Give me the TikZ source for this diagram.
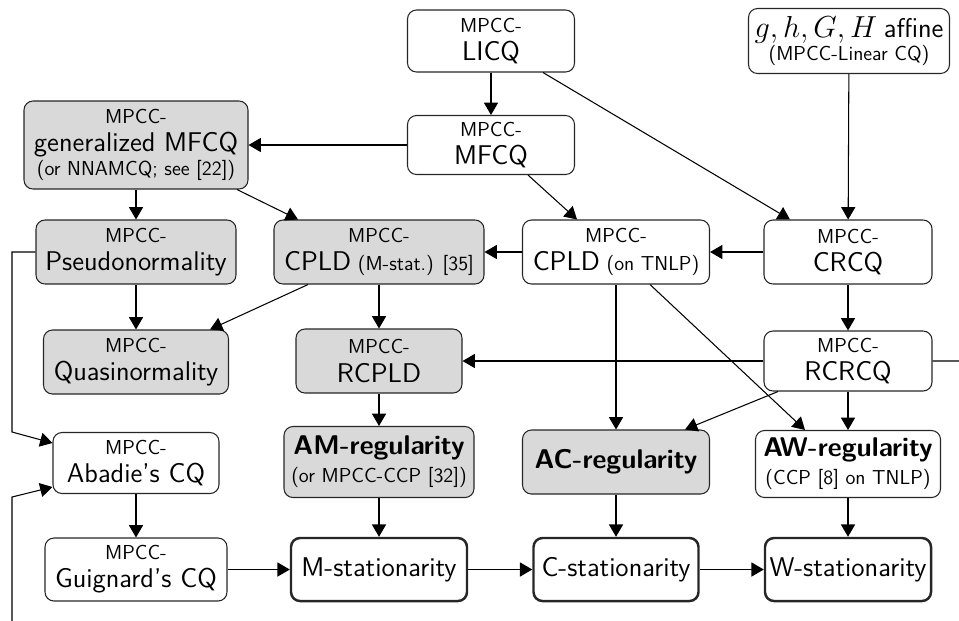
\documentclass[tikz,border=0pt]{standalone}
\usetikzlibrary{arrows.meta,calc}
\newcommand{\mainsz}{\fontsize{15.4}{16}\selectfont}
\tikzset{
	cq/.style={draw=black!85, line width=0.6pt, rounded corners=1.8mm, align=center, inner sep=2pt, font=\sffamily\fontsize{11.5}{16}\selectfont},
	cqgray/.style={cq, fill=black!15},
	stat/.style={cq, line width=1.4pt, font=\sffamily\mainsz},
	arr/.style={-{Triangle[length=7pt,width=8pt]}, line width=0.6pt},
}

\begin{document}
\begin{tikzpicture}
			%%%%% START %%%%%
			\useasboundingbox (0,0) rectangle (19.18,-12.4);
			
			% top rows
			\node[cq, minimum width=3.34cm, minimum height=1.24cm] (licq) at (9.82,-0.82) {MPCC-\\{\mainsz LICQ}};
			\node[cq, minimum width=4.02cm, minimum height=1.3cm] (linear) at (16.98,-0.82) {{\fontsize{17.28}{16}\selectfont$g,h,G,H$} {\mainsz affine}\\[-3pt](MPCC-Linear CQ)};
			\node[cqgray, minimum width=4.48cm, minimum height=1.76cm] (gmfcq) at (2.72,-2.9) {MPCC-\\{\mainsz generalized MFCQ}\\[-2pt](or NNAMCQ; see [22])};
			\node[cq, minimum width=3.34cm, minimum height=1.18cm] (mfcq) at (9.82,-2.9) {MPCC-\\{\mainsz MFCQ}};
			
			\node[cqgray, minimum width=4.0cm, minimum height=1.28cm] (pseudo) at (2.72,-5.04) {MPCC-\\{\mainsz Pseudonormality}};
			\node[cqgray, minimum width=4.2cm, minimum height=1.28cm] (cpldm) at (7.58,-5.04) {MPCC-\\{\mainsz CPLD} (M-stat.) [35]};
			\node[cq, minimum width=3.74cm, minimum height=1.28cm] (cpldt) at (12.32,-5.04) {MPCC-\\{\mainsz CPLD} (on TNLP)};
			\node[cq, minimum width=3.36cm, minimum height=1.28cm] (crcq) at (16.96,-5.04) {MPCC-\\{\mainsz CRCQ}};
			
			\node[cqgray, minimum width=3.7cm, minimum height=1.28cm] (quasi) at (2.72,-7.24) {MPCC-\\{\mainsz Quasinormality}};
			\node[cqgray, minimum width=3.32cm, minimum height=1.28cm] (rcpld) at (7.58,-7.22) {MPCC-\\{\mainsz RCPLD}};
			\node[cq, minimum width=3.36cm, minimum height=1.2cm] (rcrcq) at (16.96,-7.22) {MPCC-\\{\mainsz RCRCQ}};
			
			% regularity
			\node[cq, minimum width=3.32cm, minimum height=1.22cm] (abadie) at (2.72,-9.26) {MPCC-\\{\mainsz Abadie's CQ}};
			\node[cqgray, minimum width=3.8cm, minimum height=1.42cm] (amreg) at (7.58,-9.24) {{\mainsz\bfseries AM-regularity}\\(or MPCC-CCP [32])};
			\node[cqgray, minimum width=3.74cm, minimum height=1.28cm] (acreg) at (12.32,-9.24) {\mainsz\bfseries AC-regularity};
			\node[cq, minimum width=3.7cm, minimum height=1.34cm] (awreg) at (16.96,-9.28) {{\mainsz\bfseries AW-regularity}\\(CCP [8] on TNLP)};
			
			% stationarity
			\node[cq, minimum width=3.64cm, minimum height=1.26cm] (guig) at (2.72,-11.39) {MPCC-\\{\mainsz Guignard's CQ}};
			\node[stat, minimum width=3.52cm, minimum height=1.26cm] (mstat) at (7.58,-11.39) {M-stationarity};
			\node[stat, minimum width=3.3cm, minimum height=1.26cm] (cstat) at (12.32,-11.39) {C-stationarity};
			\node[stat, minimum width=3.32cm, minimum height=1.26cm] (wstat) at (16.96,-11.39) {W-stationarity};
			
			\coordinate (leftup) at (0.24,-8.64);
			\coordinate (leftlow) at (0.24,-9.94);
			\coordinate (outr) at (19.7,-7.22);
			\coordinate (outrb) at (19.7,-12.9);
			\coordinate (outlb) at (0.24,-12.9);
			
			\draw[arr] (licq) -- (mfcq);
			\draw[arr] ($(licq.south)+(1.04,0)$) -- ($(crcq.north)+(-1.16,0)$);
			\draw[arr] (linear) -- (crcq);
			\draw[arr] (mfcq) -- (gmfcq);
			\draw[arr] ($(mfcq.south)+(0.74,0)$) -- ($(cpldt.north)+(-0.78,0)$);
			\draw[arr] (gmfcq) -- (pseudo);
			\draw[arr] ($(gmfcq.south)+(2.02,0)$) -- ($(cpldm.north)+(-1.62,0)$);
			\draw[arr] (crcq) -- (cpldt);
			\draw[arr] (cpldt) -- (cpldm);
			\draw[arr] (crcq) -- (rcrcq);
			\draw[arr] (pseudo) -- (quasi);
			\draw[arr] ($(cpldm.south)+(-1.42,0)$) -- ($(quasi.north)+(1.48,0)$);
			\draw[arr] (cpldm) -- (rcpld);
			\draw[arr] (rcrcq) -- (rcpld);
			\draw[arr] (cpldt) -- (acreg);
			\draw[arr] ($(cpldt.south)+(0.68,0)$) -- ($(awreg.north)+(-0.86,0)$);
			\draw[arr] ($(rcrcq.south)+(-1.4,0)$) -- ($(acreg.north)+(1.38,0)$);
			\draw[arr] (rcrcq) -- (awreg);
			\draw[arr] (rcpld) -- (amreg);
			
			\draw[arr] (pseudo.west) -| (leftup) -- ($(abadie.west)+(0,0.4)$);
			\draw[arr] (rcrcq.east) -- (outr) -- (outrb) -- (outlb) -- (leftlow) -- ($(abadie.west)+(0,-0.48)$);
			
			\draw[arr] (abadie) -- (guig);
			\draw[arr] (amreg) -- (mstat);
			\draw[arr] (acreg) -- (cstat);
			\draw[arr] (awreg) -- (wstat);
			\draw[arr] (guig) -- (mstat);
			\draw[arr] (mstat) -- (cstat);
			\draw[arr] (cstat) -- (wstat);
			
			%%%%% END %%%%%
\end{tikzpicture}
\end{document}
